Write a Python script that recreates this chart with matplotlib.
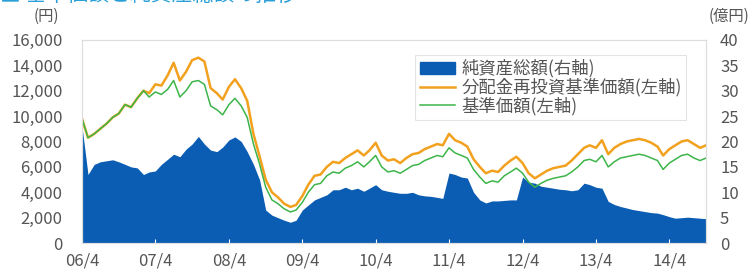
import pandas as pd
import matplotlib
matplotlib.use("Agg")
import matplotlib.pyplot as plt
from matplotlib.patches import Patch
from matplotlib.lines import Line2D

plt.rcParams['font.family'] = ['Noto Sans CJK JP', 'DejaVu Sans']

# 月次データ 2006/4 - 2014/10
dates = pd.date_range("2006-04-01", "2014-10-01", freq="MS")

# 分配金再投資基準価額 (円)
reinvest = [
    9800, 8300, 8600, 9000, 9400, 9900, 10200, 10900, 10700,
    11400, 12000, 11800, 12500, 12400, 13200, 14200, 12800, 13500, 14400, 14600, 14300,
    12200, 11800, 11300, 12300, 12900, 12200, 11200, 8600, 6800, 5000, 4000, 3600,
    3100, 2850, 3000, 3700, 4600, 5300, 5400, 6000, 6400, 6300, 6700, 7000,
    7300, 6900, 7300, 7900, 6900, 6500, 6600, 6300, 6700, 7000, 7100, 7400,
    7600, 7800, 7700, 8600, 8100, 7900, 7600, 6600, 6000, 5500, 5700, 5600,
    6100, 6500, 6800, 6300, 5500, 5100, 5400, 5700, 5900, 6000, 6100, 6500,
    7000, 7500, 7700, 7500, 8100, 7000, 7500, 7800, 8000, 8100, 8200, 8100,
    7900, 7600, 6900, 7400, 7700, 8000, 8100, 7800, 7500, 7700,
]

# 基準価額 (円)
nav = [
    9800, 8300, 8600, 9000, 9400, 9900, 10200, 10900, 10700,
    11400, 12000, 11500, 11900, 11700, 12100, 12800, 11500, 12000, 12700, 12800, 12500,
    10800, 10500, 10100, 10900, 11400, 10800, 9900, 7800, 6200, 4400, 3400, 3100,
    2700, 2450, 2600, 3200, 4000, 4600, 4700, 5300, 5600, 5500, 5900, 6100,
    6400, 6000, 6400, 6900, 6000, 5600, 5700, 5500, 5800, 6100, 6200, 6500,
    6700, 6900, 6800, 7500, 7100, 6900, 6700, 5800, 5200, 4700, 4900, 4800,
    5300, 5600, 5900, 5500, 4800, 4400, 4700, 4950, 5100, 5200, 5300, 5600,
    6000, 6500, 6600, 6400, 6900, 6000, 6400, 6700, 6800, 6900, 7000, 6900,
    6700, 6500, 5800, 6300, 6600, 6900, 7000, 6700, 6500, 6700,
]

# 純資産総額 (億円)
assets = [
    23, 13.5, 15.5, 16, 16.2, 16.4, 16, 15.5, 15,
    14.8, 13.5, 14, 14.2, 15.5, 16.5, 17.5, 17, 18.5, 19.5, 21, 19.5,
    18.3, 18, 18.9, 20.3, 20.9, 20, 18, 15.5, 12.4, 6.5, 5.5, 5,
    4.5, 4.1, 4.5, 6.5, 7.5, 8.5, 9, 9.5, 10.5, 10.5, 11, 10.5,
    10.8, 10.2, 10.8, 11.5, 10.5, 10.2, 10, 9.8, 9.8, 10, 9.5, 9.3,
    9.2, 9.0, 8.8, 13.8, 13.5, 13, 12.8, 10, 8.5, 7.9, 8.3, 8.3,
    8.4, 8.5, 8.5, 13, 12, 11.8, 11.2, 11, 10.8, 10.6, 10.5, 10.3,
    10.5, 11.8, 11.5, 11, 10.8, 8.2, 7.6, 7.2, 6.9, 6.6, 6.4, 6.2,
    6, 5.9, 5.6, 5.2, 4.9, 5, 5.1, 5, 4.9, 4.8,
]

tick_dates = pd.date_range("2006-04-01", "2014-04-01", freq="12MS")
tick_labels = ["06/4", "07/4", "08/4", "09/4", "10/4", "11/4", "12/4", "13/4", "14/4"]

blue = "#0b5db3"
orange = "#f2a11f"
green = "#3db54a"
grey = "#555555"

fig = plt.figure(figsize=(7.52, 2.75), dpi=100)
ax = fig.add_axes([0.109, 0.116, 0.830, 0.739])
ax2 = ax.twinx()

ax2.fill_between(dates, assets, 0, color=blue, linewidth=0)
ax2.set_ylim(0, 40)
ax2.set_yticks(range(0, 41, 5))

ax.plot(dates, reinvest, color=orange, linewidth=1.8)
ax.plot(dates, nav, color=green, linewidth=1.1)
ax.set_ylim(0, 16000)
ax.set_yticks(range(0, 16001, 2000))
ax.set_yticklabels([f"{v:,}" for v in range(0, 16001, 2000)])
ax.set_xlim(dates[0], dates[-1])
ax.set_xticks(tick_dates)
ax.set_xticklabels(tick_labels)

ax.set_zorder(ax2.get_zorder() + 1)
ax.patch.set_visible(False)

for a in (ax, ax2):
    for s in a.spines.values():
        s.set_color("#dddddd")
        s.set_linewidth(0.8)
ax.tick_params(axis="y", length=0, labelsize=12, labelcolor=grey, pad=14)
ax.tick_params(axis="x", direction="in", length=3, color="white",
               labelsize=12, labelcolor=grey, pad=7)
ax2.tick_params(axis="y", length=0, labelsize=12, labelcolor=grey, pad=10)

handles = [Patch(color=blue),
           Line2D([], [], color=orange, linewidth=1.8),
           Line2D([], [], color=green, linewidth=1.1)]
labels = ["純資産総額(右軸)", "分配金再投資基準価額(左軸)", "基準価額(左軸)"]
leg = ax.legend(handles, labels, loc="upper right", bbox_to_anchor=(0.982, 0.968),
                fontsize=12.5, frameon=True, fancybox=False, handlelength=2.0,
                handleheight=0.75, labelspacing=0.02, borderpad=0.25,
                handletextpad=0.4, labelcolor=grey)
leg.get_frame().set_edgecolor("#dddddd")
leg.get_frame().set_linewidth(0.8)

fig.text(0.062, 0.94, "(円)", ha="center", va="center", fontsize=11, color=grey)
fig.text(0.97, 0.94, "(億円)", ha="center", va="center", fontsize=11, color=grey)
# 上端で切れているタイトル
fig.text(0.0, 0.997, "■ 基準価額と純資産総額の推移", ha="left", va="baseline",
         fontsize=15, color="#2a9fd8")

fig.savefig("out.png", dpi=100)
